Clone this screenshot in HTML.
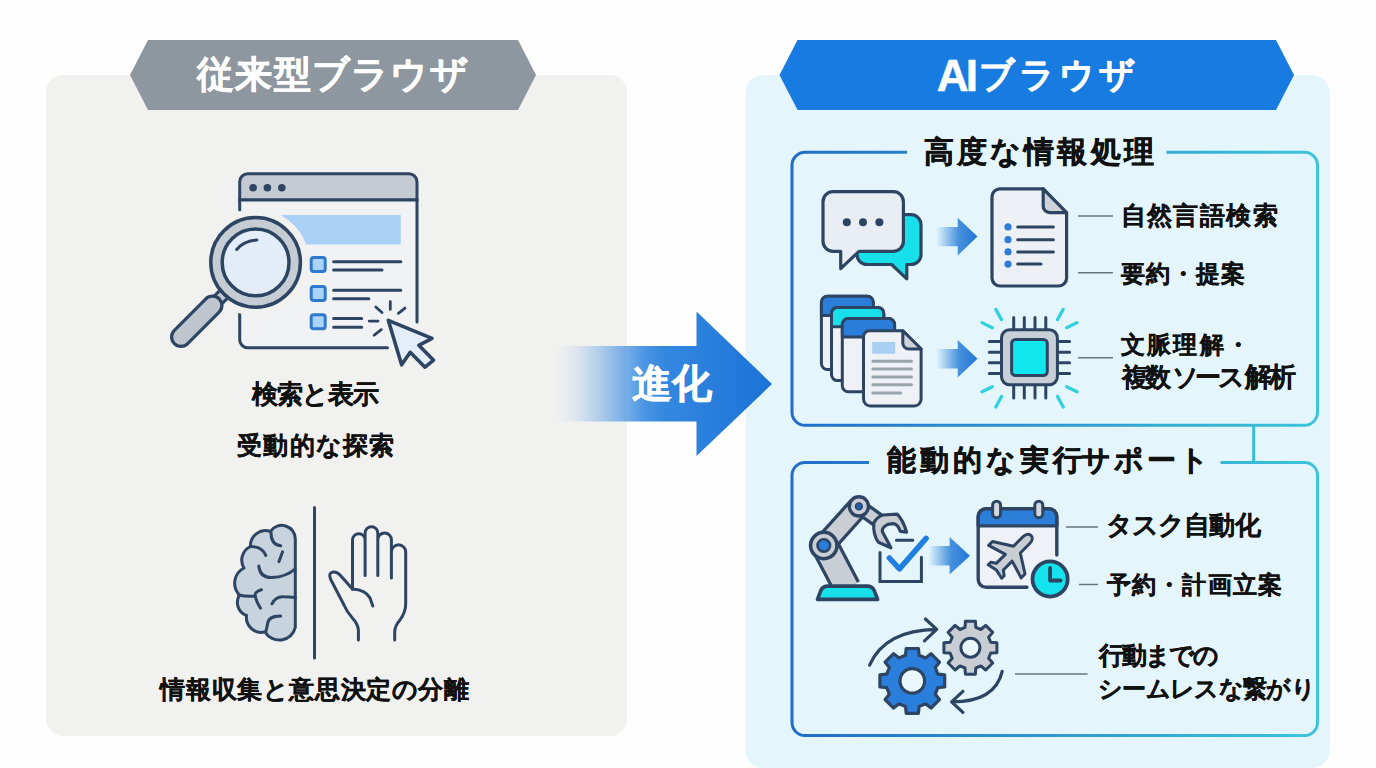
<!DOCTYPE html>
<html lang="ja"><head><meta charset="utf-8"><title>AI Browser</title>
<style>
html,body{margin:0;padding:0;width:1376px;height:768px;overflow:hidden;background:#fefefe;font-family:"Liberation Sans",sans-serif;}
.t{position:absolute;white-space:nowrap;font-weight:bold;line-height:1;}
</style></head><body>

<svg width="1376" height="768" viewBox="0 0 1376 768" style="position:absolute;left:0;top:0">
<defs>
 <linearGradient id="boxg" x1="0" y1="0" x2="1" y2="0">
  <stop offset="0" stop-color="#1f6dc8"/><stop offset="1" stop-color="#3cc4da"/>
 </linearGradient>
 <linearGradient id="arrowg" x1="556" y1="0" x2="772" y2="0" gradientUnits="userSpaceOnUse">
  <stop offset="0" stop-color="#3a8be0" stop-opacity="0"/>
  <stop offset="0.09" stop-color="#3a8be0" stop-opacity="0.1"/>
  <stop offset="0.2" stop-color="#3a8be0" stop-opacity="0.35"/>
  <stop offset="0.3" stop-color="#3a8be0" stop-opacity="0.62"/>
  <stop offset="0.41" stop-color="#3a8be0" stop-opacity="0.92"/>
  <stop offset="0.5" stop-color="#3588e0" stop-opacity="1"/>
  <stop offset="1" stop-color="#1b72d7"/>
 </linearGradient>
 <linearGradient id="smallarrow" x1="0" y1="0" x2="1" y2="0">
  <stop offset="0" stop-color="#2a7fd8" stop-opacity="0"/>
  <stop offset="0.55" stop-color="#2a7fd8" stop-opacity="0.85"/>
  <stop offset="1" stop-color="#2276d6"/>
 </linearGradient>
</defs>
<!-- panels -->
<rect x="46" y="75" width="581" height="661" rx="17" fill="#f1f1f0"/>
<rect x="745.3" y="75" width="584.5" height="693" rx="18" fill="#e4f6fc"/>
<polygon points="148,40 518,40 536,75 518,110 148,110 130,75" fill="#8e979f"/>
<polygon points="797.5,40 1276,40 1294,75 1276,110 797.5,110 779.5,75" fill="#177bdf"/>

<!-- evolution arrow -->
<polygon points="556,346 696.5,346 696.5,311.5 772,384 696.5,456 696.5,421.5 556,421.5" fill="url(#arrowg)"/>

<!-- box 1 -->
<path d="M907,152.3 H805 A13,13 0 0 0 792,165.3 V412.3 A13,13 0 0 0 805,425.3 H1304.5 A13,13 0 0 0 1317.5,412.3 V165.3 A13,13 0 0 0 1304.5,152.3 H1166.5" fill="none" stroke="url(#boxg)" stroke-width="3"/>
<line x1="1253.7" y1="425" x2="1253.7" y2="462.5" stroke="#38bcd8" stroke-width="3"/>
<!-- box 2 -->
<path d="M869,462.5 H805 A13,13 0 0 0 792,475.5 V722.5 A13,13 0 0 0 805,735.5 H1304.5 A13,13 0 0 0 1317.5,722.5 V475.5 A13,13 0 0 0 1304.5,462.5 H1220.5" fill="none" stroke="url(#boxg)" stroke-width="3"/>

<!-- ===== browser icon ===== -->
<g stroke="#2d4563" stroke-width="3" stroke-linecap="round" stroke-linejoin="round">
 <path d="M239.7,200 V181.8 A8,8 0 0 1 247.7,173.8 H409 A8,8 0 0 1 417,181.8 V200 Z" fill="#c4cad1"/>
 <rect x="239.7" y="200" width="177.3" height="147.7" fill="#f1f2f3" stroke="none"/>
 <path d="M239.7,200 H417" fill="none"/>
 <path d="M239.7,200 V210" fill="none"/>
 <path d="M239.7,314 V339.7 A8,8 0 0 0 247.7,347.7 H387.5" fill="none"/>
 <path d="M417,200 V321.9" fill="none"/>
</g>
<g fill="#2d4563"><circle cx="253.1" cy="187.8" r="3.8"/><circle cx="267.4" cy="187.8" r="3.8"/><circle cx="281.8" cy="187.8" r="3.8"/></g>
<rect x="270" y="215" width="130.7" height="29.5" fill="#a9d1f6"/>
<g fill="#a9d3f7" stroke="#2f79cc" stroke-width="3">
 <rect x="311.2" y="257.6" width="14" height="14" rx="2.5"/>
 <rect x="311.2" y="286.5" width="14" height="14" rx="2.5"/>
 <rect x="311.2" y="314.7" width="14" height="14" rx="2.5"/>
</g>
<g stroke="#2d4563" stroke-width="3" stroke-linecap="round">
 <path d="M333.6,261.7 H400.8 M333.6,270 H382 M333.6,290.2 H400.8 M333.6,298.8 H368.8 M333.6,318.4 H361.7 M333.6,327.3 H361.7"/>
 <path d="M390.3,301.6 V309.4 M375.8,307 L382,312.5 M405,308.1 L398.4,313.3 M369.2,321.1 H378.1 M374.2,335.2 L381.3,329.7" stroke-width="2.8"/>
</g>
<!-- cursor -->
<path d="M388.3,320.3 L401.6,364.8 L410.2,352.3 L425,367.2 L433.6,360.2 L418.8,345.3 L432,338.3 Z" fill="#e3eef8" stroke="#2d4563" stroke-width="3.6" stroke-linejoin="round"/>
<!-- magnifier -->
<circle cx="255.6" cy="262.4" r="53.5" fill="#f1f1f0"/>
<g stroke="#2d4563" stroke-linejoin="round">
 <line x1="224.5" y1="293.5" x2="211" y2="307" stroke="#2d4563" stroke-width="14"/>
 <line x1="224.5" y1="293.5" x2="211" y2="307" stroke="#c3c9d0" stroke-width="8"/>
 <line x1="212.5" y1="305.5" x2="181" y2="337" stroke="#2d4563" stroke-width="22" stroke-linecap="round"/>
 <line x1="212.5" y1="305.5" x2="181" y2="337" stroke="#bfc5cc" stroke-width="15.5" stroke-linecap="round"/>
 <circle cx="255.6" cy="262.4" r="44.8" fill="#c6ccd3" stroke-width="3.5"/>
 <circle cx="255.6" cy="262.4" r="33.4" fill="#e2edf7" stroke-width="3.5"/>
 <path d="M236.7,249.5 Q244,241 256.9,240" fill="none" stroke-width="3" stroke-linecap="round"/>
</g>

<!-- ===== brain / hand ===== -->
<line x1="314.5" y1="507.5" x2="314.5" y2="658" stroke="#2d4563" stroke-width="3" stroke-linecap="round"/>
<g stroke="#2d4563" stroke-width="3" stroke-linecap="round" stroke-linejoin="round">
 <path d="M295.3,627.5 V539 A13.5,13.5 0 0 0 270.5,531.5 A15,15 0 0 0 250.5,546.5 A15,15 0 0 0 244,568 A17,17 0 0 0 239.5,595 A14,14 0 0 0 246.5,615.5 A15,15 0 0 0 265,631.9 A16.5,16.5 0 0 0 295.3,627.5 Z" fill="#c7d3dd"/>
 <path d="M271,532.6 Q271,545 280.7,545.8 M282.5,551.9 L279,561.6 M250,546.6 Q262,546 265.8,555.4 M258.8,566 Q260,578 272,577.5 Q286,577 295,569 M261.4,589.7 Q254,592 255.3,596 Q256,601 260.5,608.2 M255.3,595.9 Q248,597 238.5,595 M272,603.8 Q276,596 284,596.8 Q290,597 295.3,597.6 M280.7,616 Q268,616 267.6,624 L265.8,631.9" fill="none"/>
</g>
<g stroke="#2d4563" stroke-width="3" stroke-linecap="round" stroke-linejoin="round" fill="none">
 <path d="M358.4,640 V630 Q358,624 352,617.5 Q347,612 344,605 L330.5,579 Q328,573 333,572 Q337,571.5 340,575 L352.5,589"/>
 <path d="M352.5,589 V540 A6.3,6.3 0 0 1 365.1,540 M365.1,575.5 V533 A6.35,6.35 0 0 1 377.8,533 V575.5 M377.8,575.5 V539.8 A6.8,6.8 0 0 1 391.4,539.8 V578 M391.4,578 V552 A7.15,7.15 0 0 1 405.7,552 V604 Q405.7,612 400,620 Q394.7,626 394.7,632 V640"/>
 <path d="M352.5,589 Q366,590 370,598 L372.8,606"/>
</g>

<!-- ===== box1 row1: chat bubbles ===== -->
<g stroke="#2d4563" stroke-width="3.2" stroke-linejoin="round">
 <path d="M867,214.7 H911 A10,10 0 0 1 921,224.7 V254.5 A10,10 0 0 1 911,264.5 H906.8 V278.8 L891.6,264.5 H867 A10,10 0 0 1 857,254.5 V224.7 A10,10 0 0 1 867,214.7 Z" fill="#17e0ea"/>
 <path d="M833,191.7 H893.4 A10,10 0 0 1 903.4,201.7 V241.3 A10,10 0 0 1 893.4,251.3 H859 L840.7,268.6 V251.3 H833 A10,10 0 0 1 823,241.3 V201.7 A10,10 0 0 1 833,191.7 Z" fill="#e9eef4"/>
</g>
<g fill="#2d4563"><circle cx="846.8" cy="222.2" r="4"/><circle cx="863" cy="222.2" r="4"/><circle cx="879.4" cy="222.2" r="4"/></g>
<polygon points="936,227 957.7,227 957.7,217.7 977.5,236.5 957.7,255.4 957.7,246.2 936,246.2" fill="url(#smallarrow)"/>
<!-- document -->
<g stroke="#2d4563" stroke-width="3.2" stroke-linejoin="round">
 <path d="M1000,188.8 H1043.2 L1066.6,213.2 V278 A8,8 0 0 1 1058.6,286 H1000 A8,8 0 0 1 992,278 V196.8 A8,8 0 0 1 1000,188.8 Z" fill="#edf1f5"/>
 <path d="M1043.2,188.8 V206 A6.5,6.5 0 0 0 1049.7,212.6 H1066.6 Z" fill="#cdd3d9"/>
</g>
<g fill="#2f7bd8"><circle cx="1008" cy="226.9" r="3.6"/><circle cx="1008" cy="239.7" r="3.6"/><circle cx="1008" cy="251.9" r="3.6"/><circle cx="1008" cy="264.1" r="3.6"/></g>
<path d="M1017.7,226.9 H1053.4 M1017.7,239.7 H1053.4 M1017.7,251.9 H1053.4 M1017.7,264.1 H1041" stroke="#2d4563" stroke-width="3" stroke-linecap="round"/>
<path d="M1078,216 H1113 M1078,272.7 H1113 M1078,357.8 H1113" stroke="#6a747c" stroke-width="1.5"/>

<!-- ===== box1 row2: stacked docs ===== -->
<g stroke="#2d4563" stroke-width="3" stroke-linejoin="round">
 <rect x="821.4" y="296.2" width="51.9" height="73.3" rx="6" fill="#eef2f6"/>
 <path d="M821.4,315.5 V302.2 A6,6 0 0 1 827.4,296.2 H867.3 A6,6 0 0 1 873.3,302.2 V315.5 Z" fill="#2a7dd8"/>
 <rect x="831.5" y="307.4" width="52.3" height="73.2" rx="6" fill="#eef2f6"/>
 <path d="M831.5,326.7 V313.4 A6,6 0 0 1 837.5,307.4 H877.8 A6,6 0 0 1 883.8,313.4 V326.7 Z" fill="#17e0ea"/>
 <rect x="842.3" y="318.6" width="52.3" height="73.2" rx="6" fill="#eef2f6"/>
 <path d="M842.3,336.9 V324.6 A6,6 0 0 1 848.3,318.6 H888.6 A6,6 0 0 1 894.6,324.6 V336.9 Z" fill="#2a7dd8"/>
 <path d="M869.5,330.8 H902.8 L921.1,349 V399.1 A7,7 0 0 1 914.1,406.1 H870.5 A7,7 0 0 1 863.5,399.1 V336.8 A6,6 0 0 1 869.5,330.8 Z" fill="#eef2f6"/>
 <path d="M902.8,330.8 V343 A6,6 0 0 0 908.8,349 H921.1 Z" fill="#cdd3d9"/>
</g>
<rect x="872.2" y="342" width="23" height="11.8" fill="#aacff5"/>
<path d="M872.9,361.3 H911.5 M872.9,369 H911.5 M872.9,377 H911.5 M872.9,384.7 H911.5 M872.9,392.9 H900.7" stroke="#9aa4ad" stroke-width="3" stroke-linecap="round"/>
<polygon points="936,349 957.7,349 957.7,340 977.5,358.8 957.7,377.6 957.7,368.4 936,368.4" fill="url(#smallarrow)"/>
<!-- chip -->
<g stroke="#2d4563" stroke-width="3" stroke-linecap="round">
 <path d="M1013.7,317.6 V329.8 M1024.3,317.6 V329.8 M1035,317.6 V329.8 M1045.8,317.6 V329.8 M1013.7,384.7 V398 M1024.3,384.7 V398 M1035,384.7 V398 M1045.8,384.7 V398 M989.3,341.6 H1001.5 M989.3,352.2 H1001.5 M989.3,362.7 H1001.5 M989.3,373.5 H1001.5 M1057.4,341.6 H1069.6 M1057.4,352.2 H1069.6 M1057.4,362.7 H1069.6 M1057.4,373.5 H1069.6"/>
 <rect x="1001.5" y="329.8" width="55.9" height="54.9" rx="8" fill="#c9cfd6"/>
 <rect x="1011.6" y="339.5" width="35.7" height="36.1" rx="4" fill="#12e6ee"/>
</g>
<g stroke="#2fd0e0" stroke-width="3.2" stroke-linecap="round">
 <path d="M995.8,309.4 L1001.5,319.6 M982,322.6 L992.3,327.7 M982,391.8 L992.3,386.7 M995.8,407 L1001.5,396.5 M1063.2,309.4 L1057.5,319.6 M1077,322.6 L1066.7,327.7 M1077,391.8 L1066.7,386.7 M1063.2,407 L1057.5,396.5"/>
</g>

<!-- ===== box2 row1: robot ===== -->
<g stroke-linecap="butt">
 <line x1="826" y1="548" x2="847" y2="588" stroke="#2d4563" stroke-width="29"/>
 <line x1="826" y1="548" x2="847" y2="588" stroke="#c9ced5" stroke-width="22.5"/>
 <line x1="823.8" y1="545.5" x2="858.9" y2="506.4" stroke="#2d4563" stroke-width="23"/>
 <line x1="823.8" y1="545.5" x2="858.9" y2="506.4" stroke="#c9ced5" stroke-width="16.5"/>
 <line x1="858.9" y1="506.4" x2="879" y2="521" stroke="#2d4563" stroke-width="16"/>
 <line x1="858.9" y1="506.4" x2="879" y2="521" stroke="#c9ced5" stroke-width="9.5"/>
</g>
<g stroke="#2d4563" stroke-width="3.2" stroke-linejoin="round">
 <path d="M817.5,599.4 L821,590 Q823,586.1 828,586.1 H867 Q872,586.1 874,590 L877.7,599.4 Z" fill="#17e0ea" stroke-width="3.6"/>
 <path d="M873.75,522.8 Q878,516 883.1,515 L897.2,514.2 Q903,520 906.6,532.2 L900.3,531.4 Q898,524 893,523.6 L887.8,524.4 Q882,527 882.3,531.4 L890.9,547.8 L878.4,542.3 Q873,535 873.75,522.8 Z" fill="#c9ced5"/>
 <circle cx="823.8" cy="545.5" r="13.2" fill="#c9ced5" stroke-width="3.6"/>
 <circle cx="823.8" cy="545.5" r="6.3" fill="#2a7dd8" stroke-width="2.6"/>
 <circle cx="858.9" cy="506.4" r="9.6" fill="#c9ced5" stroke-width="3.4"/>
 <circle cx="858.9" cy="506.4" r="3.4" fill="#1f5fae" stroke-width="1.5"/>
</g>
<g stroke="#2d4563" stroke-width="3" stroke-linecap="round" fill="none">
 <path d="M880,552.5 V581.4 H921.4 V557.2 M896.4,540.3 H912.8"/>
</g>
<path d="M889.4,558 L899.5,568.9 L926.1,538.4" stroke="#1f7fe0" stroke-width="5.5" stroke-linecap="round" stroke-linejoin="round" fill="none"/>
<polygon points="928,546 949.6,546 949.6,537 970,555.8 949.6,574.5 949.6,565.4 928,565.4" fill="url(#smallarrow)"/>
<!-- calendar -->
<g stroke="#2d4563" stroke-width="3.4" stroke-linejoin="round" stroke-linecap="round">
 <path d="M1056.8,555.1 V516.7 A8,8 0 0 0 1048.8,508.7 H986.2 A8,8 0 0 0 978.2,516.7 V579.3 A8,8 0 0 0 986.2,587.3 H1026.9" fill="#eef2f6"/>
 <path d="M978.2,525.9 V516.7 A8,8 0 0 1 986.2,508.7 H1048.8 A8,8 0 0 1 1056.8,516.7 V525.9 Z" fill="#2c7fd9"/>
 <rect x="992.6" y="501.2" width="8" height="16.5" rx="4" fill="#d3d8de" stroke-width="3"/>
 <rect x="1034.8" y="501.2" width="8" height="16.5" rx="4" fill="#d3d8de" stroke-width="3"/>
</g>
<path transform="translate(1007,559.5) rotate(45)" d="M0,-34 C3,-34 4.8,-31 4.8,-27 L4.8,-14 L23,-2.5 L23,3 L4.8,-2.5 L4.8,10 L9.5,13.5 L9.5,17 L0,15 L-9.5,17 L-9.5,13.5 L-4.8,10 L-4.8,-2.5 L-23,3 L-23,-2.5 L-4.8,-14 L-4.8,-27 C-4.8,-31 -3,-34 0,-34 Z" fill="#c9ced5" stroke="#2d4563" stroke-width="3" stroke-linejoin="round"/>
<circle cx="1050.1" cy="579" r="17.6" fill="#14e2ec" stroke="#2d4563" stroke-width="3.8"/>
<path d="M1050.1,568 V580.5 H1060.5" fill="none" stroke="#2d4563" stroke-width="3.8" stroke-linecap="round" stroke-linejoin="round"/>
<path d="M1066,526.9 H1098 M1079,584.5 H1098 M1015,673.9 H1087.6" stroke="#6a747c" stroke-width="1.5"/>

<!-- ===== gears ===== -->
<path d="M905.5,655.3 L906.2,648.5 L918.4,648.5 L919.1,655.3 L925.6,658.0 L931.0,653.7 L939.5,662.2 L935.2,667.6 L937.9,674.1 L944.7,674.8 L944.7,687.0 L937.9,687.7 L935.2,694.2 L939.5,699.6 L931.0,708.1 L925.6,703.8 L919.1,706.5 L918.4,713.3 L906.2,713.3 L905.5,706.5 L899.0,703.8 L893.6,708.1 L885.1,699.6 L889.4,694.2 L886.7,687.7 L879.9,687.0 L879.9,674.8 L886.7,674.1 L889.4,667.6 L885.1,662.2 L893.6,653.7 L899.0,658.0 Z" fill="#2a7fdc" stroke="#2d4563" stroke-width="3.2" stroke-linejoin="round"/>
<circle cx="912.3" cy="680.9" r="12.3" fill="#e9f6fc" stroke="#2d4563" stroke-width="3.2"/>
<path d="M965.0,627.4 L965.4,621.2 L975.4,621.2 L975.8,627.4 L980.9,629.5 L985.7,625.4 L992.7,632.4 L988.6,637.2 L990.7,642.3 L996.9,642.7 L996.9,652.7 L990.7,653.1 L988.6,658.2 L992.7,663.0 L985.7,670.0 L980.9,665.9 L975.8,668.0 L975.4,674.2 L965.4,674.2 L965.0,668.0 L959.9,665.9 L955.1,670.0 L948.1,663.0 L952.2,658.2 L950.1,653.1 L943.9,652.7 L943.9,642.7 L950.1,642.3 L952.2,637.2 L948.1,632.4 L955.1,625.4 L959.9,629.5 Z" fill="#c9ced5" stroke="#2d4563" stroke-width="3" stroke-linejoin="round"/>
<circle cx="970.4" cy="647.7" r="9.5" fill="#e9f6fc" stroke="#2d4563" stroke-width="3"/>
<g stroke="#2d4563" stroke-width="3.2" stroke-linecap="round" stroke-linejoin="round" fill="none">
 <path d="M869.6,665.2 Q885,630 936.7,629.4 M925.4,619 L936.7,629.4 L924.5,640.8"/>
 <path d="M1002.2,671.3 Q995,702 951.6,701.8 M962.9,691.3 L951.6,701.8 L962.9,712.3"/>
</g>
</svg>

<div class="t" style="left:197.1px;top:55.9px;font-size:37.35px;letter-spacing:1.28px;color:#fff;-webkit-text-stroke:0.5px #fff">従来型ブラウザ</div>
<div class="t" style="left:936.8px;top:53.5px;font-size:44.14px;letter-spacing:-2.93px;color:#fff;-webkit-text-stroke:0.5px #fff">AI</div>
<div class="t" style="left:978.6px;top:57.4px;font-size:35.0px;letter-spacing:4.22px;color:#fff;-webkit-text-stroke:0.5px #fff">ブラウザ</div>
<div class="t" style="left:251.8px;top:381.6px;font-size:25.94px;letter-spacing:-0.96px;color:#111;-webkit-text-stroke:0.25px #111">検索と表示</div>
<div class="t" style="left:237.2px;top:432.5px;font-size:24.95px;letter-spacing:1.17px;color:#111;-webkit-text-stroke:0.25px #111">受動的な探索</div>
<div class="t" style="left:160.4px;top:676.5px;font-size:25.24px;letter-spacing:0.6px;color:#111;-webkit-text-stroke:0.25px #111">情報収集と意思決定の分離</div>
<div class="t" style="left:632.2px;top:363.8px;font-size:40.31px;letter-spacing:-0.52px;color:#fff;-webkit-text-stroke:0.5px #fff">進化</div>
<div class="t" style="left:924.0px;top:136.5px;font-size:29.53px;letter-spacing:3.11px;color:#111;-webkit-text-stroke:0.5px #111">高度な情報処理</div>
<div class="t" style="left:1120.7px;top:202.9px;font-size:24.95px;letter-spacing:1.38px;color:#111;-webkit-text-stroke:0.25px #111">自然言語検索</div>
<div class="t" style="left:1121.4px;top:261.6px;font-size:24.1px;letter-spacing:0.96px;color:#111;-webkit-text-stroke:0.25px #111">要約・提案</div>
<div class="t" style="left:1121.2px;top:332.5px;font-size:24.02px;letter-spacing:2.15px;color:#111;-webkit-text-stroke:0.25px #111">文脈理解・</div>
<div class="t" style="left:1121.5px;top:364.4px;font-size:26.24px;letter-spacing:-2.5px;color:#111;-webkit-text-stroke:0.25px #111">複数</div>
<div class="t" style="left:1171.6px;top:364.4px;font-size:26.24px;letter-spacing:-3.4px;color:#111;-webkit-text-stroke:0.25px #111">ソース</div>
<div class="t" style="left:1244.5px;top:363.9px;font-size:27.04px;letter-spacing:-2.88px;color:#111;-webkit-text-stroke:0.25px #111">解析</div>
<div class="t" style="left:887.0px;top:446.1px;font-size:28.88px;letter-spacing:3.98px;color:#111;-webkit-text-stroke:0.5px #111">能動的な実行</div>
<div class="t" style="left:1081.1px;top:446.1px;font-size:28.88px;letter-spacing:2.95px;color:#111;-webkit-text-stroke:0.5px #111">サポート</div>
<div class="t" style="left:1105.8px;top:513.1px;font-size:25.66px;letter-spacing:-0.83px;color:#111;-webkit-text-stroke:0.25px #111">タスク自動化</div>
<div class="t" style="left:1107.2px;top:572.5px;font-size:24.42px;letter-spacing:1.09px;color:#111;-webkit-text-stroke:0.25px #111">予約・計画立案</div>
<div class="t" style="left:1098.8px;top:643.3px;font-size:24.9px;letter-spacing:-1.88px;color:#111;-webkit-text-stroke:0.25px #111">行動までの</div>
<div class="t" style="left:1098.1px;top:676.5px;font-size:23.79px;letter-spacing:-0.67px;color:#111;-webkit-text-stroke:0.25px #111">シームレスな繋がり</div>

</body></html>
